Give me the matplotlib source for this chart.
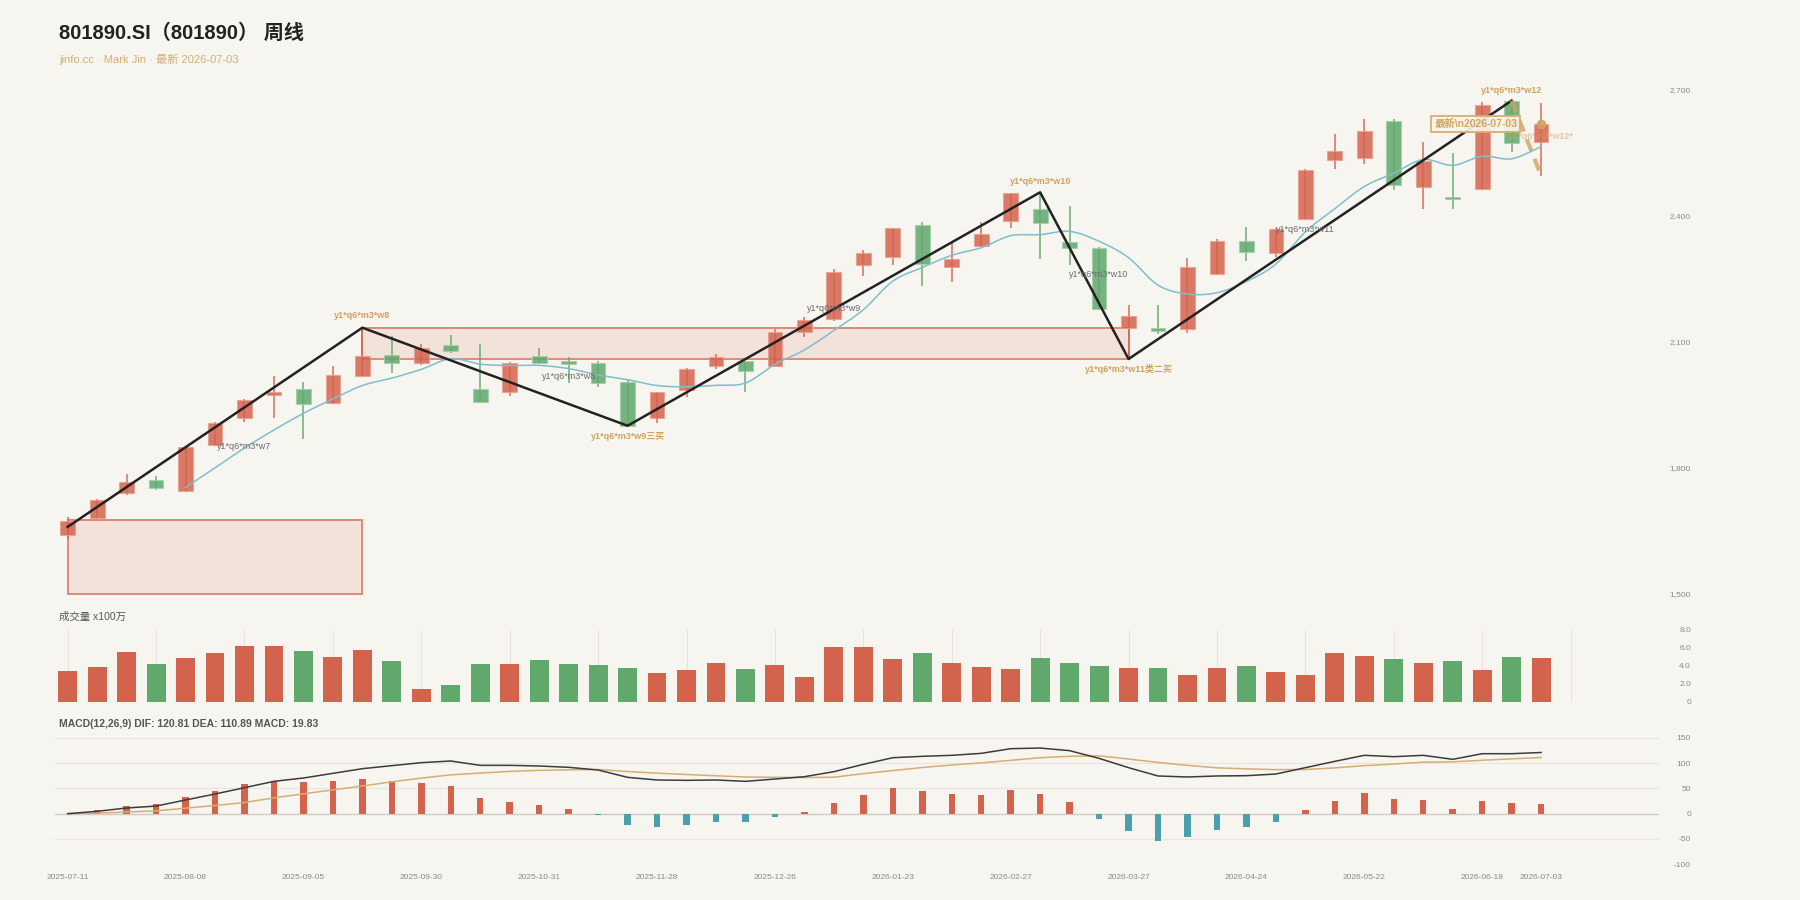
import matplotlib
matplotlib.use('Agg')
import matplotlib.pyplot as plt
import numpy as np
import pandas as pd
from matplotlib.patches import Rectangle
from matplotlib.ticker import FixedLocator, FixedFormatter

plt.rcParams['font.family'] = ['Liberation Sans', 'Noto Sans CJK SC', 'DejaVu Sans']

# ---------------- data ----------------
dates = ['2025-07-11', '2025-07-18', '2025-07-25', '2025-08-01', '2025-08-08', '2025-08-15',
         '2025-08-22', '2025-08-29', '2025-09-05', '2025-09-12', '2025-09-19', '2025-09-26',
         '2025-09-30', '2025-10-10', '2025-10-17', '2025-10-24', '2025-10-31', '2025-11-07',
         '2025-11-14', '2025-11-21', '2025-11-28', '2025-12-05', '2025-12-12', '2025-12-19',
         '2025-12-26', '2025-12-31', '2026-01-09', '2026-01-16', '2026-01-23', '2026-01-30',
         '2026-02-06', '2026-02-13', '2026-02-27', '2026-03-06', '2026-03-13', '2026-03-20',
         '2026-03-27', '2026-04-03', '2026-04-10', '2026-04-17', '2026-04-24', '2026-04-30',
         '2026-05-08', '2026-05-15', '2026-05-22', '2026-05-29', '2026-06-05', '2026-06-12',
         '2026-06-18', '2026-06-26', '2026-07-03']

opens = [1639.4, 1679.8, 1739.3, 1771.7, 1745.6, 1854.3, 1917.9, 1973.3, 1986.8, 1955.0,
         2018.4, 2068.5, 2050.2, 2092.3, 1987.6, 1981.1, 2066.0, 2053.4, 2048.7, 2003.5,
         1917.9, 1985.1, 2041.6, 2053.4, 2043.0, 2122.5, 2154.1, 2281.9, 2302.3, 2377.8,
         2277.1, 2327.8, 2386.6, 2415.9, 2336.7, 2323.8, 2133.4, 2133.4, 2131.1, 2260.5,
         2340.5, 2310.4, 2391.3, 2533.2, 2537.9, 2624.5, 2469.0, 2443.7, 2462.7, 2673.6,
         2576.0]
highs = [1683.0, 1725.8, 1784.6, 1779.7, 1850.7, 1909.5, 1962.6, 2017.7, 2004.2, 2042.2,
         2133.4, 2113.6, 2093.9, 2116.1, 2093.9, 2051.3, 2084.4, 2064.4, 2053.2, 2011.2,
         1981.3, 2036.4, 2070.1, 2054.1, 2129.6, 2159.5, 2273.8, 2318.2, 2371.4, 2384.9,
         2338.1, 2384.3, 2454.4, 2455.6, 2423.0, 2325.6, 2188.1, 2186.7, 2298.5, 2344.5,
         2372.3, 2370.4, 2510.4, 2594.3, 2630.1, 2630.8, 2575.3, 2548.4, 2671.2, 2673.7,
         2667.4]
lows = [1631.4, 1677.5, 1735.3, 1746.5, 1743.3, 1851.6, 1909.7, 1919.2, 1867.8, 1952.4,
        2016.8, 2024.9, 2044.7, 2072.5, 1954.2, 1971.6, 2048.7, 2001.1, 1991.6, 1900.1,
        1907.3, 1967.8, 2034.4, 1981.1, 2041.0, 2112.0, 2150.1, 2256.4, 2281.9, 2232.6,
        2241.5, 2325.6, 2370.0, 2297.6, 2282.6, 2176.3, 2058.9, 2118.4, 2120.1, 2258.5,
        2292.9, 2302.3, 2389.1, 2510.3, 2522.3, 2461.0, 2415.1, 2416.6, 2460.0, 2552.2,
        2495.1]
closes = [1674.1, 1723.4, 1767.0, 1752.7, 1848.8, 1907.3, 1960.7, 1980.4, 1951.2, 2020.9,
          2066.0, 2048.7, 2084.4, 2078.0, 1955.9, 2050.2, 2050.2, 2046.3, 2002.6, 1900.2,
          1979.7, 2035.2, 2063.7, 2030.4, 2122.5, 2151.1, 2266.7, 2310.4, 2370.0, 2285.0,
          2296.2, 2357.1, 2453.2, 2382.6, 2323.8, 2178.6, 2162.0, 2126.3, 2277.1, 2339.0,
          2312.9, 2369.0, 2508.6, 2553.9, 2602.2, 2472.3, 2530.9, 2438.9, 2662.6, 2572.2,
          2617.5]
volumes = [3.41, 3.89, 5.56, 4.26, 4.93, 5.44, 6.26, 6.26, 5.63, 4.96,
           5.81, 4.59, 1.44, 1.81, 4.19, 4.19, 4.67, 4.19, 4.04, 3.78,
           3.15, 3.59, 4.33, 3.70, 4.15, 2.74, 6.07, 6.07, 4.74, 5.41,
           4.37, 3.89, 3.67, 4.85, 4.30, 3.96, 3.78, 3.78, 2.96, 3.78,
           4.00, 3.33, 2.96, 5.44, 5.15, 4.74, 4.30, 4.59, 3.52, 4.96,
           4.89]
dif = [0.0, 4.6, 11.2, 15.0, 27.0, 38.8, 51.3, 63.8, 70.4, 79.6,
       88.8, 94.8, 100.7, 104.0, 95.4, 95.4, 94.1, 91.5, 86.2, 71.7,
       66.5, 65.8, 66.5, 63.8, 68.4, 73.0, 82.9, 97.4, 110.5, 113.2,
       115.2, 119.1, 128.3, 129.6, 124.4, 109.2, 90.8, 74.4, 72.4, 74.4,
       75.0, 78.3, 90.8, 103.3, 115.2, 112.5, 115.2, 107.3, 118.4, 118.4,
       120.81]
dea = [0.0, 1.0, 3.3, 5.5, 10.9, 16.1, 22.0, 31.2, 39.1, 47.0,
       54.6, 62.9, 70.1, 76.7, 80.2, 83.5, 85.5, 86.5, 87.2, 83.2,
       80.0, 77.3, 74.8, 72.4, 71.7, 71.3, 72.0, 79.0, 85.1, 91.1,
       96.1, 100.3, 105.3, 110.5, 113.2, 114.2, 107.9, 101.1, 95.4, 90.5,
       88.5, 86.9, 87.2, 90.4, 94.8, 98.0, 101.7, 102.3, 105.5, 108.2,
       110.89]
macd_hist = [0.0, 7.2, 15.8, 19.0, 32.2, 45.4, 58.6, 65.1, 62.5, 65.1,
             68.4, 63.8, 61.2, 54.6, 30.3, 23.7, 17.1, 9.9, -2.0, -23.0,
             -27.0, -23.0, -16.5, -17.1, -6.6, 3.3, 21.7, 36.8, 50.7, 44.1,
             38.2, 37.5, 46.0, 38.2, 22.4, -9.9, -34.2, -53.3, -46.0, -32.2,
             -27.0, -17.1, 7.2, 25.7, 40.8, 29.0, 27.0, 9.9, 25.7, 20.4,
             19.83]

# stroke (bi) vertices: candle index and price
zz_idx = [0, 10, 19, 33, 36, 49]
zz_price = [1659.4, 2133.4, 1900.1, 2455.6, 2058.9, 2673.7]

# pivot zones (zhongshu)
zone_start = [0, 10]
zone_end = [10, 36]
zone_low = [1500.0, 2058.2]
zone_high = [1675.8, 2133.4]

# stroke labels: (index, price, text, kind)
labels = [
    (10, 2162.6, 'y1*q6*m3*w8', 'gold'),
    (19, 1875.7, 'y1*q6*m3*w9三买', 'gold'),
    (33, 2481.5, 'y1*q6*m3*w10', 'gold'),
    (36, 2034.5, 'y1*q6*m3*w11类二买', 'gold'),
    (49, 2698.0, 'y1*q6*m3*w12', 'gold'),
    (6, 1851.6, 'y1*q6*m3*w7', 'gray'),
    (17, 2018.4, 'y1*q6*m3*w8', 'gray'),
    (26, 2179.1, 'y1*q6*m3*w9', 'gray'),
    (35, 2260.3, 'y1*q6*m3*w10', 'gray'),
    (42, 2368.2, 'y1*q6*m3*w11', 'gray'),
]

price_ticks = [1500, 1800, 2100, 2400, 2700]
vol_ticks = [0, 2, 4, 6, 8]
vol_tick_labels = ['0', '2.0', '4.0', '6.0', '8.0']
macd_ticks = [-100, -50, 0, 50, 100, 150]
date_tick_idx = [0, 4, 8, 12, 16, 20, 24, 28, 32, 36, 40, 44, 48, 50]

# ---------------- style ----------------
BG = '#f7f5f0'
RED = '#d4634e'
GREEN = '#60a86c'
RED_EDGE = '#e8a090'
GREEN_EDGE = '#a3d0ab'
TEAL = '#4a9fb0'
GOLD = '#cfa45f'
GOLD_LIGHT = '#d6ad72'
GRAY_TXT = '#6a6a6a'
AXIS_TXT = '#8a8a8a'

W, H = 1800, 900
fig = plt.figure(figsize=(18, 9), dpi=100)
fig.patch.set_facecolor(BG)

L, R = 55, 1659


def add_ax(top, bottom):
    a = fig.add_axes([L / W, 1 - bottom / H, (R - L) / W, (bottom - top) / H])
    a.set_facecolor(BG)
    for s in a.spines.values():
        s.set_visible(False)
    a.set_xlim(-0.43, 54.0)
    a.yaxis.tick_right()
    a.tick_params(axis='y', length=0, pad=23, labelsize=6, labelcolor=AXIS_TXT)
    a.tick_params(axis='x', length=0)
    return a


ax = add_ax(80, 593.9)
axv = add_ax(630, 701.7)
axm = add_ax(737.7, 864.3)

x = np.arange(len(dates))
o = np.array(opens)
c = np.array(closes)
hi = np.array(highs)
lo = np.array(lows)
up = c >= o

# ---------------- main panel ----------------
ax.set_ylim(1500, 2722.8)
ax.yaxis.set_major_locator(FixedLocator(price_ticks))
ax.yaxis.set_major_formatter(FixedFormatter([f'{v:,}' for v in price_ticks]))
ax.set_xticks([])
for t in ax.get_yticklabels():
    t.set_horizontalalignment('right')

for s, e, zl, zh in zip(zone_start, zone_end, zone_low, zone_high):
    ax.add_patch(Rectangle((s, zl), e - s, zh - zl, facecolor='#f3e2da',
                           edgecolor='#e08a79', lw=1.4, zorder=1, clip_on=False))

body_col = np.where(up, RED, GREEN)
edge_col = np.where(up, RED_EDGE, GREEN_EDGE)
ax.vlines(x, lo, hi, colors=list(body_col), lw=1.2, alpha=0.85, zorder=3)
ax.bar(x, np.maximum(np.abs(c - o), 3.0), bottom=np.minimum(o, c), width=0.5,
       color=list(body_col), edgecolor=list(edge_col), lw=0.8, alpha=0.85, zorder=3)

# MA5 drawn as smooth curve
ma5 = pd.Series(closes).rolling(5).mean().to_numpy()
mx = x[~np.isnan(ma5)].astype(float)
my = ma5[~np.isnan(ma5)]


def catmull(px, py, n=12):
    xs, ys = [], []
    P = np.column_stack([px, py])
    for i in range(len(P) - 1):
        p0 = P[max(i - 1, 0)]
        p1 = P[i]
        p2 = P[i + 1]
        p3 = P[min(i + 2, len(P) - 1)]
        t = np.linspace(0, 1, n, endpoint=False)[:, None]
        seg = 0.5 * ((2 * p1) + (-p0 + p2) * t + (2 * p0 - 5 * p1 + 4 * p2 - p3) * t ** 2
                     + (-p0 + 3 * p1 - 3 * p2 + p3) * t ** 3)
        xs.extend(seg[:, 0])
        ys.extend(seg[:, 1])
    xs.append(P[-1, 0])
    ys.append(P[-1, 1])
    return xs, ys


sx, sy = catmull(mx, my)
ax.plot(sx, sy, color='#7fbecb', lw=1.1, zorder=4)

# strokes
ax.plot(zz_idx, zz_price, color='#222222', lw=1.8, zorder=5)

# tentative stroke
ax.plot([49, 50], [highs[49], lows[50]], color=GOLD, lw=3, ls=(0, (3, 2)), alpha=0.8, zorder=5)
ax.plot([50], [closes[50]], 'o', color=GOLD, ms=6, alpha=0.9, zorder=6)

for i, p, txt, kind in labels:
    if kind == 'gold':
        ax.text(i, p, txt, ha='center', va='center', fontsize=6.5, color=GOLD,
                fontweight='bold', zorder=7)
    else:
        ax.text(i, p, txt, ha='center', va='center', fontsize=6.5, color=GRAY_TXT, zorder=7)

ax.text(50, 2587.9, 'y1*q6*m3*w12*', ha='center', va='center', fontsize=6.5,
        color=GOLD, alpha=0.55, fontweight='bold', zorder=7)

ax.text(47.78, closes[50], '最新\\n' + dates[-1], ha='center', va='center', fontsize=7.5,
        color=GOLD, fontweight='bold', zorder=8,
        bbox=dict(boxstyle='square,pad=0.3', fc='#f9f4e8', ec=GOLD_LIGHT, lw=1.4, alpha=0.92))

# ---------------- volume panel ----------------
axv.set_ylim(0, 8)
axv.yaxis.set_major_locator(FixedLocator(vol_ticks))
axv.yaxis.set_major_formatter(FixedFormatter(vol_tick_labels))
for t in axv.get_yticklabels():
    t.set_horizontalalignment('right')
axv.set_xticks(np.arange(0, 55, 3))
axv.set_xticklabels([])
axv.grid(axis='x', color='#e6e3dd', lw=0.8)
axv.set_axisbelow(True)
vol_col = np.where(up, RED, GREEN)
axv.bar(x, volumes, width=0.64, color=list(vol_col), zorder=3)

# ---------------- MACD panel ----------------
axm.set_ylim(-100, 150)
axm.yaxis.set_major_locator(FixedLocator(macd_ticks))
axm.yaxis.set_major_formatter(FixedFormatter([str(v) for v in macd_ticks]))
for t in axm.get_yticklabels():
    t.set_horizontalalignment('right')
axm.grid(axis='y', color='#e8e5df', lw=0.8)
axm.set_axisbelow(True)
axm.axhline(0, color='#cfccc6', lw=1.0, zorder=1)
hist = np.array(macd_hist)
axm.bar(x, hist, width=0.22, color=[RED if v >= 0 else TEAL for v in hist], zorder=3)
axm.plot(x, dea, color=GOLD_LIGHT, lw=1.1, zorder=4)
axm.plot(x, dif, color='#3c3c3c', lw=1.1, zorder=5)
axm.xaxis.set_major_locator(FixedLocator(date_tick_idx))
axm.xaxis.set_major_formatter(FixedFormatter([dates[i] for i in date_tick_idx]))
axm.tick_params(axis='x', labelsize=6, labelcolor=AXIS_TXT, pad=7)

# ---------------- header texts ----------------
fig.text(59 / W, 1 - 33 / H, '801890.SI（801890） 周线', fontsize=14.5, fontweight='bold',
         color='#222222', ha='left', va='center')
fig.text(59 / W, 1 - 59 / H, 'jinfo.cc · Mark Jin · 最新 ' + dates[-1], fontsize=8,
         color='#d2ad74', ha='left', va='center')
fig.text(59 / W, 1 - 617 / H, '成交量 x100万', fontsize=7.5, color='#555555',
         ha='left', va='center')
fig.text(59 / W, 1 - 724 / H,
         f'MACD(12,26,9) DIF: {dif[-1]:.2f} DEA: {dea[-1]:.2f} MACD: {macd_hist[-1]:.2f}',
         fontsize=7.5, fontweight='bold', color='#555555', ha='left', va='center')

fig.savefig('out.png', dpi=100, facecolor=BG)
